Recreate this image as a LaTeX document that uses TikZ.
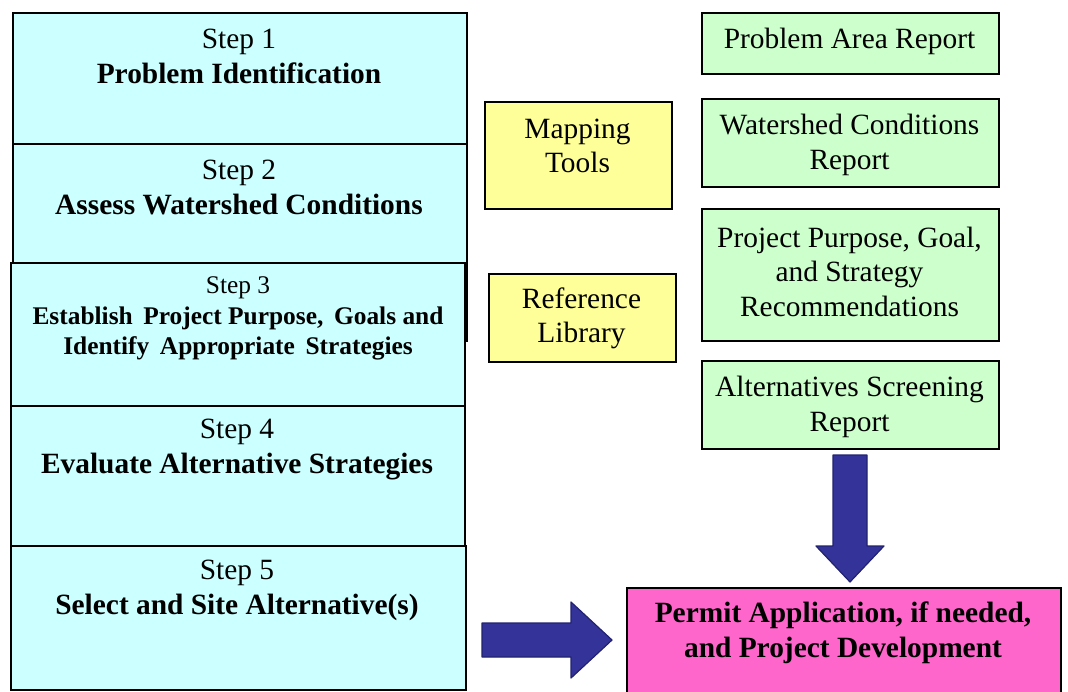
\documentclass[tikz,border=0pt]{standalone}
\usepackage{fontspec}
\setmainfont{Liberation Serif}
\usetikzlibrary{calc}
\definecolor{arrowblue}{HTML}{333399}
\definecolor{arrowedge}{HTML}{22226F}
\definecolor{stepfill}{HTML}{CCFFFF}
\definecolor{toolfill}{HTML}{FFFF99}
\definecolor{reportfill}{HTML}{CCFFCC}
\definecolor{permitfill}{HTML}{FF66CC}
\begin{document}
\begin{tikzpicture}[x=1pt,y=-1pt,
  boxbase/.style={draw=black, line width=2pt, inner sep=0pt, anchor=north west},
  stepbox/.style={boxbase, fill=stepfill},
  toolbox/.style={boxbase, fill=toolfill},
  reportbox/.style={boxbase, fill=reportfill},
  permitbox/.style={boxbase, fill=permitfill},
  txt/.style={align=center, inner sep=0pt, font=\fontsize{29.4}{34.5}\selectfont},
  smalltxt/.style={align=center, inner sep=0pt, font=\fontsize{25.4}{30.5}\selectfont},
  bigarrow/.style={fill=arrowblue, draw=arrowedge, line width=1.2pt, line join=round}]
\useasboundingbox (0,0) rectangle (1068,691);
% step boxes
\node[stepbox, minimum width=454, minimum height=131] (s1) at (12,12) {};
\node[stepbox, minimum width=454, minimum height=197] (s2) at (12,143) {};
\node[stepbox, minimum width=454, minimum height=143] (s3) at (10,262) {};
\node[stepbox, minimum width=454, minimum height=140] (s4) at (10,405) {};
\node[stepbox, minimum width=455, minimum height=144] (s5) at (10,545) {};
\node[txt] (t1) at (239,56.5) {Step 1\\\textbf{Problem Identification}};
\node[txt] (t2) at (239,187.5) {Step 2\\\textbf{Assess Watershed Conditions}};
\node[smalltxt] (t3) at (238,318.5) {Step 3\\\textbf{Establish\, Project Purpose,\, Goals and}\\\textbf{Identify\, Appropriate\, Strategies}};
\node[txt] (t4) at (237,449.5) {Step 4\\\textbf{Evaluate Alternative Strategies}};
\node[txt] (t5) at (237,590.5) {Step 5\\\textbf{Select and Site Alternative(s)}};
% tool boxes
\node[toolbox, minimum width=187, minimum height=107] (m) at (484,101) {};
\node[txt] (mt) at (577.5,146) {Mapping\\Tools};
\node[toolbox, minimum width=187, minimum height=88] (r) at (488,273) {};
\node[txt] (rt) at (581.5,318.5) {Reference\\Library};
% report boxes
\node[reportbox, minimum width=297, minimum height=61] (g1) at (701,12) {};
\node[txt] (g1t) at (849.5,41.5) {Problem Area Report};
\node[reportbox, minimum width=297, minimum height=88] (g2) at (701,98) {};
\node[txt] (g2t) at (849.5,145) {Watershed Conditions\\Report};
\node[reportbox, minimum width=297, minimum height=132] (g3) at (701,208) {};
\node[txt] (g3t) at (849.5,271.5) {Project Purpose, Goal,\\and Strategy\\Recommendations};
\node[reportbox, minimum width=297, minimum height=88] (g4) at (701,360) {};
\node[txt] (g4t) at (849.5,407) {Alternatives Screening\\Report};
% permit box
\node[permitbox, minimum width=434, minimum height=110] (p) at (626,587) {};
\node[txt] (pt) at (843,633) {\textbf{Permit Application, if needed,}\\\textbf{and Project Development}};
% arrows
\coordinate (dtop) at (850,455);
\coordinate (dtip) at (850,582);
\coordinate (rtail) at (482,640);
\coordinate (rtip) at (612,640);
\draw[bigarrow] ($(dtop)+(-17,0)$) -- ($(dtop)+(17,0)$) -- ($(dtop)+(17,91)$) -- ($(dtop)+(34,91)$) -- (dtip) -- ($(dtop)+(-34,91)$) -- ($(dtop)+(-17,91)$) -- cycle;
\draw[bigarrow] ($(rtail)+(0,-17)$) -- ($(rtail)+(89,-17)$) -- ($(rtail)+(89,-38)$) -- (rtip) -- ($(rtail)+(89,38)$) -- ($(rtail)+(89,17)$) -- ($(rtail)+(0,17)$) -- cycle;
\end{tikzpicture}
\end{document}
